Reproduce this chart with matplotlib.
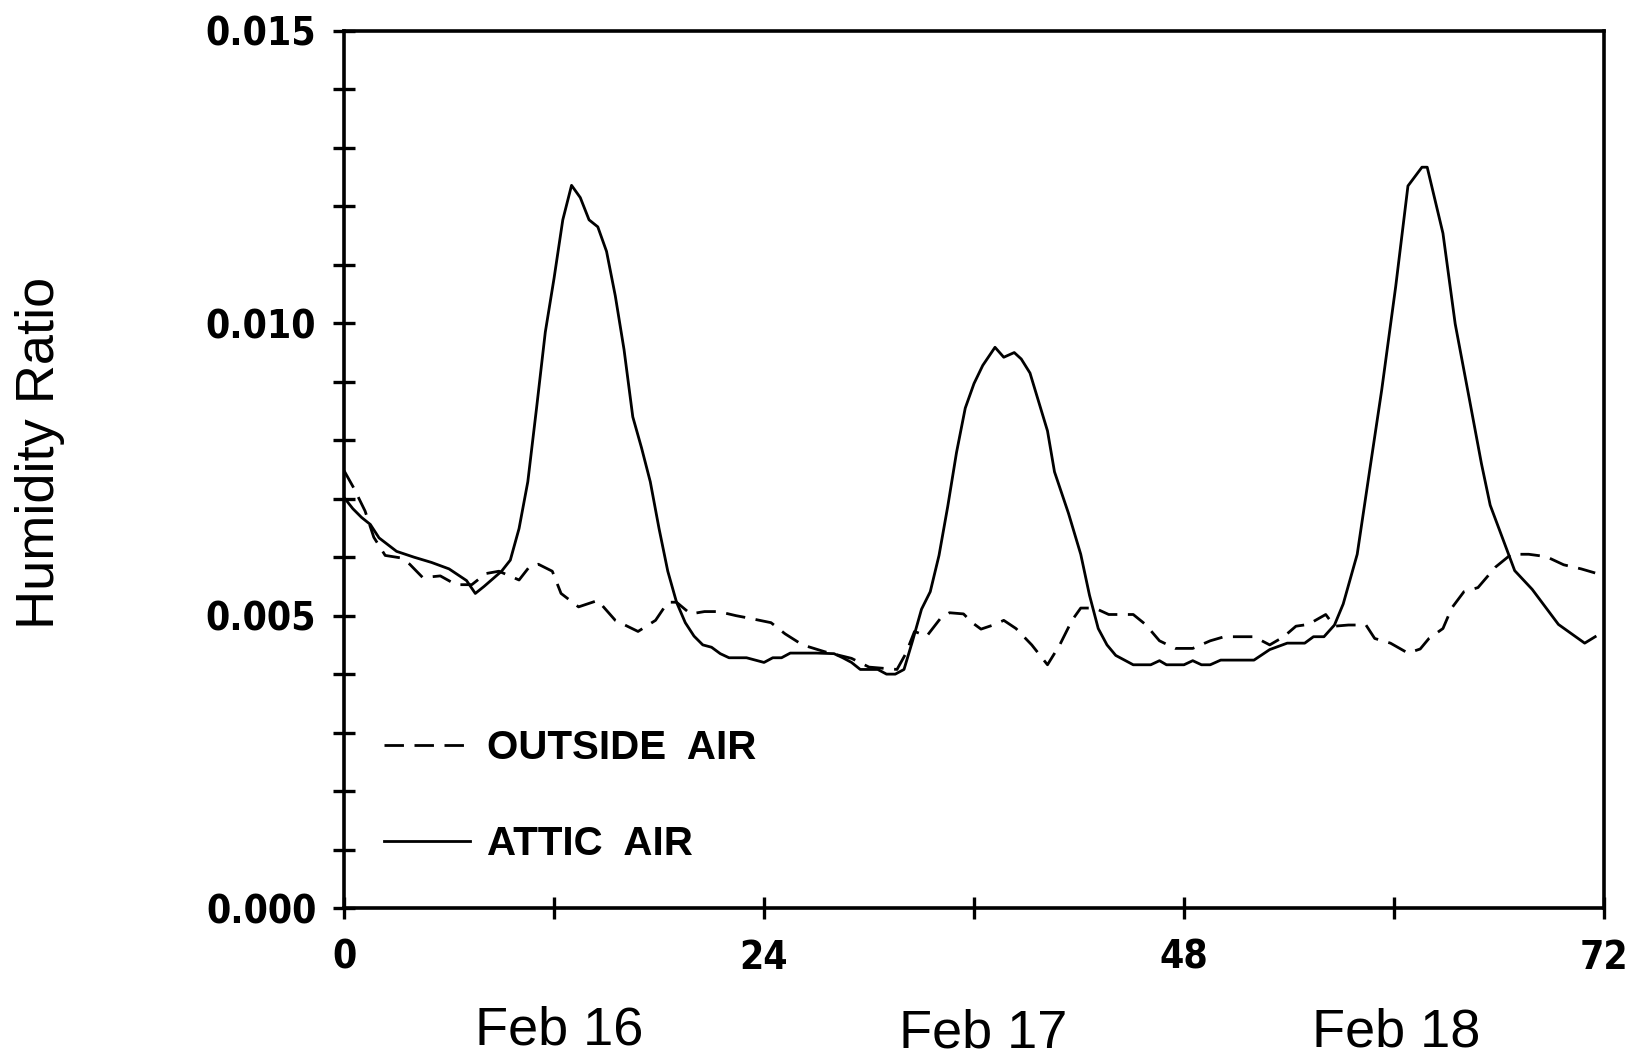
import matplotlib
matplotlib.use("Agg")
import matplotlib.pyplot as plt
import matplotlib.transforms as mtrans

# ---- data (hours from start, humidity ratio) ----
attic_hours = [0, 0.5, 1, 1.5, 2, 3, 4, 5, 6, 7, 7.5, 8, 9, 9.5, 10, 10.5, 11, 11.5,
               12, 12.5, 13, 13.5, 14, 14.5, 15, 15.5, 16, 16.5, 17, 17.5, 18, 18.5,
               19, 19.5, 20, 20.5, 21, 21.5, 22, 23, 24, 24.5, 25, 25.5, 26, 27, 28,
               28.5, 29, 29.5, 30, 30.5, 31, 31.5, 32, 32.5, 33, 33.5, 34, 34.5, 35,
               35.5, 36, 36.5, 37.2, 37.7, 38.3, 38.7, 39.2, 40.2, 40.6, 41.4, 42.1,
               42.6, 43.1, 43.6, 44.1, 45.1, 46.1, 46.6, 47.0, 48.0, 48.5, 49.0, 49.5,
               50.1, 52.0, 52.9, 53.9, 54.9, 55.4, 56.0, 56.6, 57.1, 57.9, 58.6, 59.3,
               60.1, 60.8, 61.6, 61.9, 62.8, 63.5, 64.3, 65.0, 65.5, 66.2, 66.9, 67.9,
               69.4, 70.9, 71.5]
attic_air = [0.00702, 0.00683, 0.00668, 0.00656, 0.00633, 0.00610, 0.00600, 0.00591,
             0.00580, 0.00560, 0.00538, 0.00550, 0.00576, 0.00595, 0.00649, 0.00729,
             0.00855, 0.00985, 0.01077, 0.01177, 0.01236, 0.01215, 0.01177, 0.01165,
             0.01123, 0.01047, 0.00955, 0.00840, 0.00787, 0.00729, 0.00649, 0.00576,
             0.00523, 0.00488, 0.00465, 0.00450, 0.00446, 0.00435, 0.00428, 0.00428,
             0.00420, 0.00428, 0.00428, 0.00436, 0.00436, 0.00436, 0.00435, 0.00428,
             0.00420, 0.00408, 0.00408, 0.00408, 0.00400, 0.00400, 0.00408, 0.00458,
             0.00511, 0.00541, 0.00603, 0.00687, 0.00779, 0.00855, 0.00897, 0.00928,
             0.00959, 0.00942, 0.00950, 0.00939, 0.00915, 0.00816, 0.00746, 0.00675,
             0.00605, 0.00535, 0.00478, 0.00450, 0.00432, 0.00416, 0.00416, 0.00423,
             0.00416, 0.00416, 0.00423, 0.00416, 0.00416, 0.00424, 0.00424, 0.00442,
             0.00453, 0.00453, 0.00464, 0.00464, 0.00484, 0.00520, 0.00605, 0.00746,
             0.00886, 0.01063, 0.01235, 0.01267, 0.01267, 0.01154, 0.00999, 0.00872,
             0.00760, 0.00689, 0.00633, 0.00577, 0.00545, 0.00485, 0.00453, 0.00464]

outside_hours = [0, 0.56, 1.2, 1.7, 2.35, 3.2, 3.75, 4.5, 5.5, 6.4, 7.3, 8.1, 8.85,
                 10.0, 10.6, 11.1, 11.9, 12.4, 13.4, 14.5, 15.5, 16.8, 17.8, 18.5,
                 19.0, 19.8, 20.6, 21.4, 22.4, 23.1, 24.4, 25.2, 26.2, 27.5, 29.0,
                 30.0, 31.6, 32.1, 32.6, 33.3, 34.1, 34.6, 35.4, 35.9, 36.4, 37.2,
                 37.7, 38.4, 39.3, 40.2, 40.9, 41.6, 42.1, 42.9, 43.7, 45.1, 45.8,
                 46.6, 47.5, 48.5, 49.5, 50.3, 52.0, 52.9, 53.7, 54.4, 55.1, 56.1,
                 56.6, 57.4, 58.4, 58.9, 59.8, 60.8, 61.5, 62.0, 62.8, 63.3, 64.0,
                 64.8, 65.8, 66.7, 67.7, 68.7, 69.7, 70.7, 71.5]
outside_air = [0.00748, 0.00718, 0.00679, 0.00634, 0.00603, 0.00599, 0.00588, 0.00565,
               0.00568, 0.00553, 0.00553, 0.00572, 0.00576, 0.00561, 0.00584, 0.00588,
               0.00576, 0.00538, 0.00515, 0.00526, 0.00492, 0.00473, 0.00492, 0.00523,
               0.00523, 0.00503, 0.00507, 0.00507, 0.00500, 0.00496, 0.00488, 0.00469,
               0.00450, 0.00438, 0.00427, 0.00412, 0.00408, 0.00435, 0.00473, 0.00465,
               0.00496, 0.00505, 0.00503, 0.00488, 0.00477, 0.00485, 0.00492, 0.00478,
               0.00450, 0.00416, 0.00450, 0.00492, 0.00513, 0.00513, 0.00502, 0.00502,
               0.00485, 0.00457, 0.00444, 0.00444, 0.00457, 0.00464, 0.00464, 0.00450,
               0.00464, 0.00482, 0.00485, 0.00502, 0.00482, 0.00484, 0.00484, 0.00461,
               0.00453, 0.00436, 0.00443, 0.00461, 0.00478, 0.00513, 0.00541, 0.00548,
               0.00583, 0.00605, 0.00605, 0.00601, 0.00587, 0.00580, 0.00573]

x_ticks = [0, 12, 24, 36, 48, 60, 72]
x_labels = ["0", "", "24", "", "48", "", "72"]
y_ticks = [i / 1000 for i in range(16)]
y_labels = ["0.000", "", "", "", "", "0.005", "", "", "", "", "0.010", "", "", "", "", "0.015"]
day_labels = ["Feb 16", "Feb 17", "Feb 18"]
day_hours = [12.3, 36.5, 60.1]
day_label_y = [0.0151, 0.0123, 0.0132]

# ---- figure ----
fig = plt.figure(figsize=(16.33, 10.61), dpi=100)
ax = fig.add_axes([0.2107, 0.1442, 0.9822 - 0.2107, 0.9708 - 0.1442])

lw = 2.0
ax.plot(outside_hours, outside_air, color="black", lw=lw, dashes=(7, 3.8),
        label="OUTSIDE  AIR")
ax.plot(attic_hours, attic_air, color="black", lw=lw, label="ATTIC  AIR")

ax.set_xlim(0, 72)
ax.set_ylim(0, 0.015)
ax.set_xticks(x_ticks)
ax.set_xticklabels(x_labels)
ax.set_yticks(y_ticks)
ax.set_yticklabels(y_labels)

for s in ax.spines.values():
    s.set_linewidth(2.6)

ax.tick_params(axis="both", direction="inout", length=16, width=2.4, color="black")
ax.tick_params(axis="y", pad=12)
ax.tick_params(axis="x", pad=14)
for lab in ax.get_yticklabels() + ax.get_xticklabels():
    lab.set_fontfamily("DejaVu Sans")
    lab.set_fontstretch("condensed")
    lab.set_fontweight("bold")
    lab.set_fontsize(28)

fig.text(0.0245, 0.573, "Humidity Ratio", rotation=90, ha="center", va="center",
         fontsize=39, family="Liberation Sans")

trans = mtrans.blended_transform_factory(ax.transData, fig.transFigure)
for lab, h, yy in zip(day_labels, day_hours, day_label_y):
    ax.text(h, yy, lab, transform=trans, ha="center", va="baseline",
            fontsize=39, family="Liberation Sans", clip_on=False)

leg = ax.legend(loc="upper left", bbox_to_anchor=(0.019, 0.222), frameon=False,
                prop={"family": "Liberation Sans", "size": 29, "weight": "bold"},
                handlelength=2.13, handletextpad=0.42, labelspacing=1.43,
                borderaxespad=0)

fig.savefig("out.png", dpi=100)
